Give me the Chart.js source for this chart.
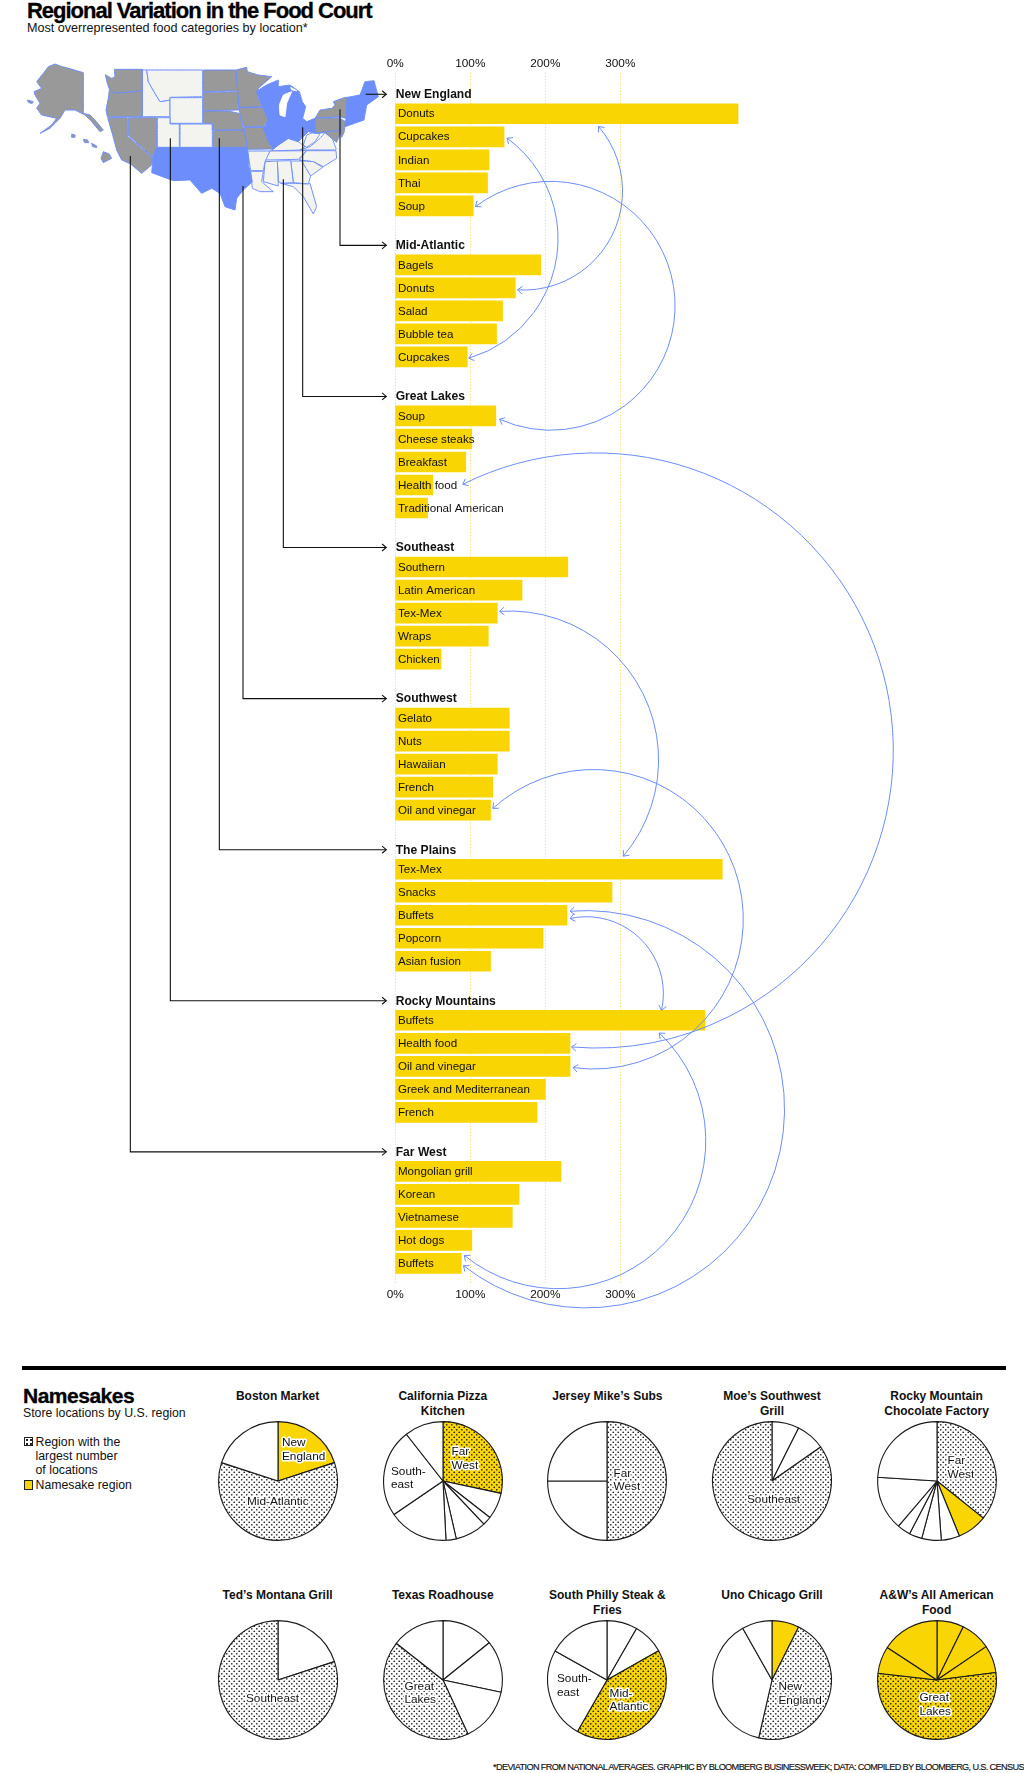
<!DOCTYPE html>
<html><head><meta charset="utf-8">
<script src="https://cdn.jsdelivr.net/npm/chart.js@4"></script>
<style>
html,body{margin:0;padding:0;background:#fff;}
body{width:1024px;height:1773px;position:relative;overflow:hidden;font-family:"Liberation Sans",Arial,sans-serif;color:#111;}
.t{position:absolute;white-space:nowrap;line-height:1;}
canvas{position:absolute;}
.pt{position:absolute;width:164px;text-align:center;font:bold 12px/15px "Liberation Sans";transform:translateX(-82px);}
</style></head><body>
<div class="t" style="left:27px;top:-1px;font:bold 22px/24px 'Liberation Sans';letter-spacing:-1.02px;-webkit-text-stroke:.3px #000;color:#000">Regional Variation in the Food Court</div>
<div class="t" style="left:27px;top:21px;font:12.6px/14px 'Liberation Sans';">Most overrepresented food categories by location*</div>
<canvas id="map" width="380" height="200" style="left:20px;top:50px;width:380px;height:200px;z-index:1"></canvas>
<canvas id="main" width="1024" height="1773" style="left:0;top:0;width:1024px;height:1773px;z-index:2"></canvas>
<div style="position:absolute;left:21.5px;top:1366px;width:984px;height:4px;background:#000"></div>
<div class="t" style="left:23px;top:1384px;font:bold 21px/24px 'Liberation Sans';letter-spacing:-.5px;-webkit-text-stroke:.3px #000;color:#000">Namesakes</div>
<div class="t" style="left:23px;top:1406px;font:12.3px/14px 'Liberation Sans';">Store locations by U.S. region</div>
<div style="position:absolute;left:23.5px;top:1437px;width:7px;height:7px;border:1px solid #222;background:#fff radial-gradient(circle,#222 1px,transparent 1.4px) 0 0/4px 4px"></div>
<div class="t" style="left:35.5px;top:1434.5px;font:12.3px/14.4px 'Liberation Sans';white-space:normal;width:120px;">Region with the<br>largest number<br>of locations<br>Namesake region</div>
<div style="position:absolute;left:23.5px;top:1480px;width:7px;height:8px;border:1px solid #222;background:#F9D504"></div>
<div class="t" id="foot" style="left:493px;top:1762px;font:9.2px/10px 'Liberation Sans';-webkit-text-stroke:.15px #111;">*DEVIATION FROM NATIONAL AVERAGES. GRAPHIC BY BLOOMBERG BUSINESSWEEK; DATA: COMPILED BY BLOOMBERG, U.S. CENSUS</div>
<script>
/* ---------- bar data ---------- */
const regions=["New England","Mid-Atlantic","Great Lakes","Southeast","Southwest","The Plains","Rocky Mountains","Far West"];
const newEnglandCats=["Donuts","Cupcakes","Indian","Thai","Soup"];
const newEnglandVals=[457,145,125,123,104];
const midAtlanticCats=["Bagels","Donuts","Salad","Bubble tea","Cupcakes"];
const midAtlanticVals=[194,160,143,135,96];
const greatLakesCats=["Soup","Cheese steaks","Breakfast","Health food","Traditional American"];
const greatLakesVals=[134,102,94,50,43];
const southeastCats=["Southern","Latin American","Tex-Mex","Wraps","Chicken"];
const southeastVals=[230,169,136,124,61];
const southwestCats=["Gelato","Nuts","Hawaiian","French","Oil and vinegar"];
const southwestVals=[152,152,136,130,127];
const plainsCats=["Tex-Mex","Snacks","Buffets","Popcorn","Asian fusion"];
const plainsVals=[436,289,229,197,127];
const rockyCats=["Buffets","Health food","Oil and vinegar","Greek and Mediterranean","French"];
const rockyVals=[413,233,233,200,189];
const farWestCats=["Mongolian grill","Korean","Vietnamese","Hot dogs","Buffets"];
const farWestVals=[221,165,156,102,88];
const tickValues=[0,100,200,300];

const allCats=[newEnglandCats,midAtlanticCats,greatLakesCats,southeastCats,southwestCats,plainsCats,rockyCats,farWestCats];
const allVals=[newEnglandVals,midAtlanticVals,greatLakesVals,southeastVals,southwestVals,plainsVals,rockyVals,farWestVals];

/* arcs between repeated categories: [value, row-y] for each end and one point on the curve */
const arcEnds=[
 [[271,12.7],[163,176],[303,77]],
 [[149,24.3],[98,244.3],[217,125.3]],
 [[107,92.7],[139,305.3],[373,193.7]],
 [[90,370.3],[235,932.7],[664,637]],
 [[139,497.3],[304,742],[351,648.7]],
 [[130,694.3],[237,953.3],[464,803.7]],
 [[233,804.3],[355,896],[330,827]],
 [[352,918.7],[92,1141],[414,1027]],
 [[233,797],[91,1151.3],[519,997]]
];
/* connector anchors on the map (map units) */
const anchorX=[1037,960,848,790,669,598,451,331];
const anchorY=[131,178,232,388,408,265,265,318];

/* ---------- map polygons (map units) ---------- */
const grayStates=[
 [105,42,120,48,135,52,190,68,190,190,210,195,225,210,250,240,240,245,215,215,195,195,165,180,135,180,120,205,90,235,60,250,95,225,110,205,65,195,50,175,60,160,45,135,42,125,65,115,50,95,70,70,85,50],
 [22,150,40,155,36,161,25,157],
 [283,58,367,58,367,122,320,128,285,130,268,118,262,100,256,74,275,85,285,80],
 [268,120,285,130,367,123,367,200,262,200,258,180,265,145],
 [263,203,322,203,322,258,397,322,395,345,365,370,332,342,305,330,290,300,278,255],
 [325,203,410,203,410,293,397,320,325,256],
 [550,60,648,60,653,122,550,125],[550,127,653,125,657,180,550,182],
 [550,183,625,183,657,190,672,240,577,240,577,220,550,220],
 [580,242,672,240,682,292,580,292],
 [648,60,680,52,682,65,715,75,755,80,715,115,712,140,728,170,657,172],
 [657,173,728,172,745,210,730,230,672,230,660,195],
 [672,232,732,232,745,275,760,297,683,298],
 [940,155,975,142,982,142,980,195,978,205,960,200,885,205,900,180,935,175,945,165],
 [885,205,960,203,965,240,885,250],
 [888,250,920,245,965,240,950,277,935,265,915,248],
 [962,206,977,215,972,248,965,262]
];
const blueStates=[
 [410,293,682,293,687,350,697,395,670,420,650,445,645,480,615,470,600,430,575,415,545,430,510,390,460,392,395,368,397,345,398,322],
 [982,142,1020,135,1035,95,1062,92,1075,140,1040,165,1032,210,975,230,978,205],
 [708,125,740,105,775,90,775,110,810,105,838,125,847,155,857,170,848,205,860,215,885,205,885,250,865,245,835,275,805,265,775,285,760,297,745,275,730,235,745,210,728,170]
];
const lakes=[[790,135,815,125,800,160,795,200,780,195,778,165],[812,112,830,122,815,120]];
const hawaii=[[155,252,165,255,165,262,155,262],[190,268,203,270,206,278,194,278],[215,280,230,288,230,293,218,290],[250,305,268,312,275,325,250,338,243,325]];
const lightStates=[
 [367,60,380,60,385,95,402,125,420,155,450,150,450,200,367,200],
 [380,60,548,60,548,140,450,142,450,150,420,155,402,125,385,95],
 [450,143,548,143,548,220,450,220],
 [412,203,450,203,450,222,478,222,478,292,412,292],
 [480,222,577,222,577,292,480,292],
 [760,297,775,285,805,265,835,275,855,290,840,300,752,303],
 [750,303,860,302,835,328,735,330],
 [840,300,870,290,900,265,915,248,935,260,948,295,948,300],
 [850,285,860,255,885,245,900,252,885,275,860,292],
 [860,302,948,302,950,325,910,350,880,335,838,330],
 [840,332,880,335,908,352,872,378,845,345],
 [812,333,845,333,872,378,865,402,820,398],
 [772,333,812,332,820,398,785,400,775,395],
 [735,335,772,333,775,408,730,395],
 [683,303,750,303,735,335,730,362,692,362],
 [692,364,730,364,725,395,760,425,720,425,697,415],
 [782,400,820,400,865,402,870,400,890,470,880,492,850,440,820,410]
];

/* ---------- pie data ---------- */
const pieNames=[["Boston Market"],["California Pizza","Kitchen"],["Jersey Mike's Subs"],["Moe's Southwest","Grill"],["Rocky Mountain","Chocolate Factory"],["Ted's Montana Grill"],["Texas Roadhouse"],["South Philly Steak &","Fries"],["Uno Chicago Grill"],["A&W's All American","Food"]];
const pieValues=[[20,60,20],[28.4,7.2,2.4,8.5,2.8,16.3,24,10.6],[50,25,25],[7.4,7.9,84.7],[35.8,8.1,5,5.3,3.5,3.6,14.8,24],[20,80],[14.2,14.1,14.8,42.5,14.4],[8.3,8.5,41.5,24.8,16.9],[7.4,46.2,38.2,8.2],[7.3,8.2,7.5,53.8,7.4,15.8]];
const pieKinds=[["y","d","w"],["yd","w","w","w","w","w","w","w"],["d","w","w"],["w","w","d"],["d","y","w","w","w","w","w","w"],["w","d"],["w","w","w","d","w"],["w","w","yd","w","w"],["y","d","w","w"],["y","y","y","yd","y","y"]];
const pieLabels=[
 [[["New","England"],4,-38],[["Mid-Atlantic"],-31,21]],
 [[["Far","West"],8.5,-29],[["South-","east"],-52,-9.7]],
 [[["Far","West"],6.5,-7.3]],
 [[["Southeast"],-25,18.3]],
 [[["Far","West"],10.5,-20]],
 [[["Southeast"],-32,19]],
 [[["Great","Lakes"],-38.5,6.7]],
 [[["South-","east"],-50,-1],[["Mid-","Atlantic"],2.6,13.3]],
 [[["New","England"],6.5,7]],
 [[["Great","Lakes"],-17.6,18]]
];
const pieColX=[277.6,442.8,607.4,772,936.6];
const pieRowY=[1480.7,1680];
const pieTitleY=[1389,1588];

/* ---------- styles ---------- */
const YEL="#F9D504",BLUE="#6C8DFB",GRAY="#999999",LIGHT="#F3F3F0",FONT='"Liberation Sans"';
const GROUP_STEP=151,ROW_STEP=23,HEAD_OFFSET=19.5;

const footEl=document.getElementById('foot');
footEl.style.letterSpacing=((531-footEl.getBoundingClientRect().width)/footEl.textContent.length)+'px';

/* ---------- map chart ---------- */
function poly(flat,fill){
  const data=[];
  for(let i=0;i<flat.length;i+=2)data.push({x:flat[i],y:flat[i+1]});
  data.push({x:flat[0],y:flat[1]});
  return {data,showLine:true,fill:'shape',backgroundColor:fill,borderColor:fill==="#fff"?"#fff":BLUE,borderWidth:1,pointRadius:0,tension:0.0001};
}
const mapChart=new Chart(document.getElementById('map'),{
 type:'scatter',
 data:{datasets:[].concat(
   lightStates.map(p=>poly(p,LIGHT)),grayStates.map(p=>poly(p,GRAY)),
   hawaii.map(p=>poly(p,GRAY)),blueStates.map(p=>poly(p,BLUE)),lakes.map(p=>poly(p,"#fff"))).reverse()},
 options:{responsive:false,animation:false,events:[],devicePixelRatio:1,
  plugins:{legend:{display:false},tooltip:{enabled:false}},
  scales:{x:{display:false,min:0,max:1140},y:{display:false,min:0,max:600,reverse:true}}}
});

/* ---------- bars ---------- */
const barData=[],barLabels=[];
allVals.forEach((vals,g)=>vals.forEach((v,i)=>{
  barData.push({x:v,y:g*GROUP_STEP+i*ROW_STEP});
  barLabels.push(allCats[g][i]);
}));

function circleThrough(a,b,c){
  const d=2*(a.x*(b.y-c.y)+b.x*(c.y-a.y)+c.x*(a.y-b.y));
  const s=p=>p.x*p.x+p.y*p.y;
  const x=(s(a)*(b.y-c.y)+s(b)*(c.y-a.y)+s(c)*(a.y-b.y))/d;
  const y=(s(a)*(c.x-b.x)+s(b)*(a.x-c.x)+s(c)*(b.x-a.x))/d;
  return {x,y,r:Math.hypot(a.x-x,a.y-y)};
}
function chevron(ctx,x,y,ang,size){
  ctx.beginPath();
  ctx.moveTo(x+size*Math.cos(ang+2.45),y+size*Math.sin(ang+2.45));
  ctx.lineTo(x,y);
  ctx.lineTo(x+size*Math.cos(ang-2.45),y+size*Math.sin(ang-2.45));
  ctx.stroke();
}
const overlay={id:'overlay',afterDatasetsDraw(chart){
  const ctx=chart.ctx,X=chart.scales.x,Y=chart.scales.y;
  ctx.save();
  ctx.textBaseline='middle';ctx.textAlign='left';ctx.fillStyle='#111';
  ctx.font='11.6px '+FONT;
  barData.forEach((d,i)=>ctx.fillText(barLabels[i],X.getPixelForValue(0)+2.6,Y.getPixelForValue(d.y)+0.5));
  ctx.font='bold 12.1px '+FONT;
  regions.forEach((r,g)=>ctx.fillText(r,X.getPixelForValue(0)+0.4,Y.getPixelForValue(g*GROUP_STEP-HEAD_OFFSET)+0.5));
  /* connectors */
  const mx=mapChart.scales.x,my=mapChart.scales.y,mc=mapChart.canvas;
  const left=parseFloat(mc.style.left),top=parseFloat(mc.style.top);
  const endX=X.getPixelForValue(0)-9;
  ctx.strokeStyle='#111';ctx.lineWidth=1.1;
  regions.forEach((r,g)=>{
    const ax=left+mx.getPixelForValue(anchorX[g]),ay=top+my.getPixelForValue(anchorY[g]);
    const hy=Y.getPixelForValue(g*GROUP_STEP-HEAD_OFFSET);
    ctx.beginPath();ctx.moveTo(ax,g>0?ay:hy);
    if(g>0)ctx.lineTo(ax,hy);
    ctx.lineTo(endX,hy);ctx.stroke();
    chevron(ctx,endX,hy,0,5.5);
  });
  /* arcs */
  ctx.strokeStyle=BLUE;ctx.lineWidth=1;
  arcEnds.forEach(e=>{
    const [a,b,c]=e.map(p=>({x:X.getPixelForValue(p[0]),y:Y.getPixelForValue(p[1])}));
    const o=circleThrough(a,b,c);
    const a1=Math.atan2(a.y-o.y,a.x-o.x),a2=Math.atan2(b.y-o.y,b.x-o.x),am=Math.atan2(c.y-o.y,c.x-o.x);
    const norm=t=>((t%(2*Math.PI))+2*Math.PI)%(2*Math.PI);
    const cw=norm(am-a1)<norm(a2-a1);
    ctx.beginPath();ctx.arc(o.x,o.y,o.r,a1,a2,!cw);ctx.stroke();
    const dir=cw?1:-1;
    chevron(ctx,a.x,a.y,a1-dir*Math.PI/2,6);
    chevron(ctx,b.x,b.y,a2+dir*Math.PI/2,6);
  });
  ctx.restore();
}};
const onlyTicks=a=>{a.ticks=tickValues.map(v=>({value:v}));};
const pct=v=>v+'%';
const tickBase={font:{family:FONT,size:11.8},color:'#111',callback:pct,autoSkip:false,maxRotation:0};
const mainChart=new Chart(document.getElementById('main'),{
 type:'bar',
 data:{datasets:[{data:barData,backgroundColor:YEL,barThickness:20,base:-1.5,borderWidth:0}]},
 options:{indexAxis:'y',responsive:false,animation:false,events:[],devicePixelRatio:1,
  layout:{padding:{left:395.3,right:178.7,top:54.6,bottom:467.4}},
  plugins:{legend:{display:false},tooltip:{enabled:false}},
  scales:{
   x:{type:'linear',position:'bottom',min:0,max:600,afterBuildTicks:onlyTicks,
      grid:{color:'#F9DE50',lineWidth:1,drawTicks:false},border:{display:false,dash:[1,2]},ticks:{...tickBase,padding:4}},
   x2:{type:'linear',axis:'x',position:'top',min:0,max:600,afterBuildTicks:onlyTicks,
      grid:{display:false,drawTicks:false},border:{display:false},ticks:{...tickBase,padding:2}},
   y:{type:'linear',display:false,reverse:true,offset:false,grid:{offset:false},min:-41,max:1169}
  }},
 plugins:[overlay]
});

/* ---------- pies ---------- */
function dotPattern(bg){
  const c=document.createElement('canvas');c.width=5;c.height=5;
  const g=c.getContext('2d');g.fillStyle=bg;g.fillRect(0,0,5,5);
  g.fillStyle='#222';
  [[1.25,1.25],[3.75,3.75]].forEach(p=>{g.beginPath();g.arc(p[0],p[1],0.85,0,7);g.fill();});
  return g.createPattern(c,'repeat');
}
const pieFill={w:'#fff',y:YEL,d:dotPattern('#fff'),yd:dotPattern(YEL)};
const pieText={id:'pieText',afterDatasetsDraw(chart,args,opts){
  const ctx=chart.ctx,m=chart.getDatasetMeta(0).data[0];
  ctx.save();ctx.font='11.8px '+FONT;ctx.textBaseline='middle';ctx.textAlign='left';ctx.lineJoin='round';
  opts.labels.forEach(l=>{
    l[0].forEach((s,i)=>{
      const x=m.x+l[1],y=m.y+l[2]+i*13.4;
      ctx.lineWidth=3.2;ctx.strokeStyle='#fff';ctx.strokeText(s,x,y);
      ctx.fillStyle='#111';ctx.fillText(s,x,y);
    });
  });
  ctx.restore();
}};
pieValues.forEach((vals,i)=>{
  const col=i%5,row=Math.floor(i/5),S=130;
  const cv=document.createElement('canvas');cv.width=S;cv.height=S;
  cv.style.cssText=`left:${pieColX[col]-S/2}px;top:${pieRowY[row]-S/2}px;width:${S}px;height:${S}px;z-index:3`;
  document.body.appendChild(cv);
  const t=document.createElement('div');t.className='pt';
  t.style.left=pieColX[col]+'px';t.style.top=pieTitleY[row]+'px';
  t.innerHTML=pieNames[i].map(s=>s.replace('&','&amp;').replace("'","\u2019")).join('<br>');
  document.body.appendChild(t);
  new Chart(cv,{type:'pie',
   data:{labels:pieKinds[i],datasets:[{data:vals,backgroundColor:pieKinds[i].map(k=>pieFill[k]),borderColor:'#1a1a1a',borderWidth:1.1}]},
   options:{responsive:false,animation:false,events:[],devicePixelRatio:1,radius:59.4,
    plugins:{legend:{display:false},tooltip:{enabled:false},pieText:{labels:pieLabels[i]}}},
   plugins:[pieText]});
});
</script>
</body></html>
